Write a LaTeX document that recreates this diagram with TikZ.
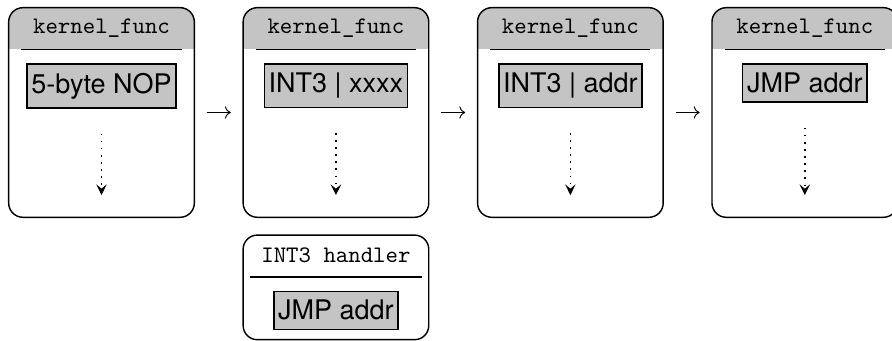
\documentclass[tikz,border=0pt]{standalone}
\usepackage{fontspec}
\setsansfont{TeX Gyre Heros}
\usetikzlibrary{positioning, arrows.meta}

\tikzset{
  panel/.style={draw, semithick, rounded corners=6pt, minimum width=2.754cm,
    minimum height=3.11cm, inner sep=0pt},
  kpanel/.style={panel, path picture={\fill[black!23, sharp corners]
    (path picture bounding box.north west) rectangle
    ([yshift=-0.62cm]path picture bounding box.north east);}},
  head/.style={font=\ttfamily, inner xsep=4.7pt, inner ysep=0pt, minimum height=0.62cm},
  op/.style={draw, semithick, fill=black!23, font=\fontsize{11.4}{13}\selectfont\sffamily,
    inner xsep=1.8pt, inner ysep=3.8pt},
  flow/.style={semithick, dash pattern=on 0.7pt off 2.3pt,
    -{Stealth[length=4.5pt,width=4.4pt,inset=1.8pt]}},
  patch/.style={->, shorten <=4.9pt, shorten >=4.9pt}
}

\begin{document}
\begin{tikzpicture}
    \useasboundingbox (0,0) rectangle (13.234,-5.059);

    % Patching stages of the function
    \node[kpanel] (p1) at (1.506,-1.669) {};
    \node[kpanel, right=0.703cm of p1] (p2) {};
    \node[kpanel, right=0.703cm of p2] (p3) {};
    \node[kpanel, right=0.703cm of p3] (p4) {};
    \node[panel, below=0.243cm of p2, minimum height=1.552cm] (p5) {};

    % Headers
    \node[head, below=0pt of p1.north] (h1) {kernel\_func};
    \node[head, below=0pt of p2.north] (h2) {kernel\_func};
    \node[head, below=0pt of p3.north] (h3) {kernel\_func};
    \node[head, below=0pt of p4.north] (h4) {kernel\_func};
    \node[head, below=0pt of p5.north] (h5) {INT3 handler};
    \foreach \h in {h1,h2,h3,h4,h5}
        \draw[semithick] (\h.south west) -- (\h.south east);

    % Instructions
    \node[op, below=0.2cm of h1] (o1) {5-byte NOP};
    \node[op, below=0.2cm of h2] (o2) {INT3 | xxxx};
    \node[op, below=0.2cm of h3] (o3) {INT3 | addr};
    \node[op, below=0.2cm of h4] (o4) {JMP addr};
    \node[op, below=0.2cm of h5] (o5) {JMP addr};

    % Rest of the body
    \draw[flow] ([yshift=-0.37cm]o1.south) -- ([yshift=0.34cm]p1.south);
    \draw[flow] ([yshift=-0.37cm]o2.south) -- ([yshift=0.34cm]p2.south);
    \draw[flow] ([yshift=-0.37cm]o3.south) -- ([yshift=0.34cm]p3.south);
    \draw[flow] ([yshift=-0.37cm]o4.south) -- ([yshift=0.34cm]p4.south);

    % Steps
    \draw[patch] (p1) -- (p2);
    \draw[patch] (p2) -- (p3);
    \draw[patch] (p3) -- (p4);
\end{tikzpicture}
\end{document}
